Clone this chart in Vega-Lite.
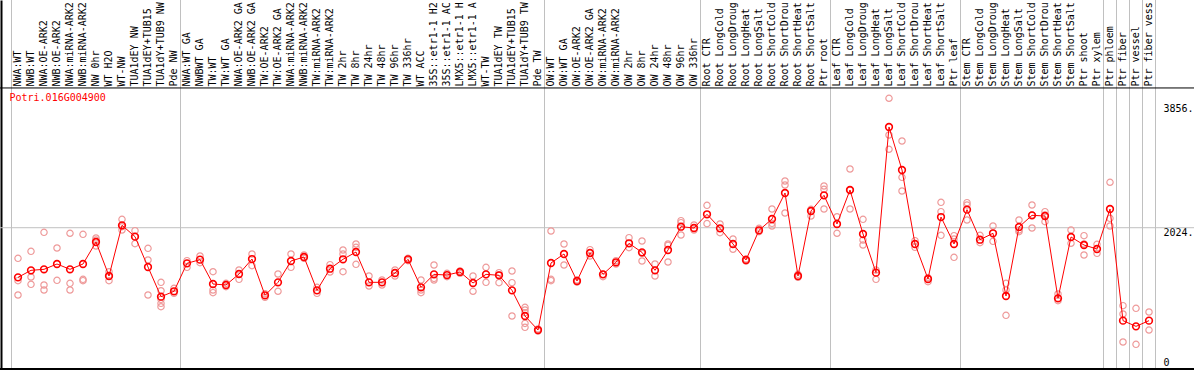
{
  "$schema": "https://vega.github.io/schema/vega-lite/v6.json",
  "width": 1194,
  "height": 370,
  "autosize": {"type": "none"},
  "padding": 0,
  "background": "white",
  "config": {
    "view": {"stroke": null},
    "font": "DejaVu Sans Mono",
    "axis": {"labelFont": "DejaVu Sans Mono", "labelFontSize": 10, "labelColor": "black"}
  },
  "datasets": {
    "cats": [
      {"cond": "NWA:WT"}, {"cond": "NWA:WT GA"}, {"cond": "OW:WT"}, {"cond": "Root CTR"}, {"cond": "Leaf CTR"},
      {"cond": "Stem CTR"}, {"cond": "Ptr phloem"}, {"cond": "Ptr fiber"}, {"cond": "Ptr vessel"}, {"cond": "Ptr fiber vessel"}
    ],
    "means": [
      {"cond": "NWA:WT", "v": 1295}, {"cond": "NWB:WT", "v": 1398}, {"cond": "NWA:OE-ARK2", "v": 1413}, {"cond": "NWB:OE-ARK2", "v": 1491},
      {"cond": "NWA:miRNA-ARK2", "v": 1413}, {"cond": "NWB:miRNA-ARK2", "v": 1491}, {"cond": "NW 0hr", "v": 1814}, {"cond": "WT H2O", "v": 1315},
      {"cond": "WT-NW", "v": 2059}, {"cond": "TUA1dEY NW", "v": 1893}, {"cond": "TUA1dEY+TUB15 NW", "v": 1447}, {"cond": "TUA1dY+TUB9 NW", "v": 1011},
      {"cond": "Pde NW", "v": 1090}, {"cond": "NWA:WT GA", "v": 1501}, {"cond": "NWBWT GA", "v": 1555}, {"cond": "TW:WT", "v": 1197},
      {"cond": "TW:WT GA", "v": 1183}, {"cond": "NWA:OE-ARK2 GA", "v": 1344}, {"cond": "NWB:OE-ARK2 GA", "v": 1564}, {"cond": "TW:OE-ARK2", "v": 1031},
      {"cond": "TW:OE-ARK2 GA", "v": 1222}, {"cond": "NWA:miRNA-ARK2 GA", "v": 1535}, {"cond": "NWB:miRNA-ARK2 GA", "v": 1594}, {"cond": "TW:miRNA-ARK2", "v": 1104},
      {"cond": "TW:miRNA-ARK2 GA", "v": 1422}, {"cond": "TW 2hr", "v": 1560}, {"cond": "TW 8hr", "v": 1667}, {"cond": "TW 24hr", "v": 1222},
      {"cond": "TW 48hr", "v": 1222}, {"cond": "TW 96hr", "v": 1359}, {"cond": "TW 336hr", "v": 1560}, {"cond": "WT ACC", "v": 1148},
      {"cond": "35S::etr1-1 H2O", "v": 1339}, {"cond": "35S::etr1-1 ACC", "v": 1329}, {"cond": "LMX5::etr1-1 H2O", "v": 1374}, {"cond": "LMX5::etr1-1 ACC", "v": 1212},
      {"cond": "WT-TW", "v": 1339}, {"cond": "TUA1dEY TW", "v": 1325}, {"cond": "TUA1dEY+TUB15 TW", "v": 1104}, {"cond": "TUA1dY+TUB9 TW", "v": 727},
      {"cond": "Pde TW", "v": 521}, {"cond": "OW:WT", "v": 1506}, {"cond": "OW:WT GA", "v": 1638}, {"cond": "OW:OE-ARK2", "v": 1241},
      {"cond": "OW:OE-ARK2 GA", "v": 1653}, {"cond": "OW:miRNA-ARK2", "v": 1339}, {"cond": "OW:miRNA-ARK2 GA", "v": 1516}, {"cond": "OW 2hr", "v": 1795},
      {"cond": "OW 8hr", "v": 1662}, {"cond": "OW 24hr", "v": 1398}, {"cond": "OW 48hr", "v": 1697}, {"cond": "OW 96hr", "v": 2039},
      {"cond": "OW 336hr", "v": 2020}, {"cond": "Root CTR", "v": 2221}, {"cond": "Root LongCold", "v": 2015}, {"cond": "Root LongDrought", "v": 1785},
      {"cond": "Root LongHeat", "v": 1550}, {"cond": "Root LongSalt", "v": 1986}, {"cond": "Root ShortCold", "v": 2152}, {"cond": "Root ShortDrought", "v": 2534},
      {"cond": "Root ShortHeat", "v": 1315}, {"cond": "Root ShortSalt", "v": 2270}, {"cond": "Ptr root", "v": 2500}, {"cond": "Leaf CTR", "v": 2079},
      {"cond": "Leaf LongCold", "v": 2578}, {"cond": "Leaf LongDrought", "v": 1932}, {"cond": "Leaf LongHeat", "v": 1364}, {"cond": "Leaf LongSalt", "v": 3504},
      {"cond": "Leaf ShortCold", "v": 2872}, {"cond": "Leaf ShortDrought", "v": 1785}, {"cond": "Leaf ShortHeat", "v": 1271}, {"cond": "Leaf ShortSalt", "v": 2181},
      {"cond": "Ptr leaf", "v": 1785}, {"cond": "Stem CTR", "v": 2289}, {"cond": "Stem LongCold", "v": 1848}, {"cond": "Stem LongDrought", "v": 1942},
      {"cond": "Stem LongHeat", "v": 1021}, {"cond": "Stem LongSalt", "v": 2035}, {"cond": "Stem ShortCold", "v": 2206}, {"cond": "Stem ShortDrought", "v": 2196},
      {"cond": "Stem ShortHeat", "v": 987}, {"cond": "Stem ShortSalt", "v": 1888}, {"cond": "Ptr shoot", "v": 1770}, {"cond": "Ptr xylem", "v": 1711},
      {"cond": "Ptr phloem", "v": 2299}, {"cond": "Ptr fiber", "v": 659}, {"cond": "Ptr vessel", "v": 575}, {"cond": "Ptr fiber vessel", "v": 659}
    ],
    "reps": [
      {"cond": "NWA:WT", "v": 1574}, {"cond": "NWA:WT", "v": 1246}, {"cond": "NWA:WT", "v": 1036},
      {"cond": "NWB:WT", "v": 1677}, {"cond": "NWB:WT", "v": 1300}, {"cond": "NWB:WT", "v": 1192},
      {"cond": "NWA:OE-ARK2", "v": 1956}, {"cond": "NWA:OE-ARK2", "v": 1183}, {"cond": "NWA:OE-ARK2", "v": 1109},
      {"cond": "NWB:OE-ARK2", "v": 1726}, {"cond": "NWB:OE-ARK2", "v": 1251},
      {"cond": "NWA:miRNA-ARK2", "v": 1942}, {"cond": "NWA:miRNA-ARK2", "v": 1207}, {"cond": "NWA:miRNA-ARK2", "v": 1109},
      {"cond": "NWB:miRNA-ARK2", "v": 1927}, {"cond": "NWB:miRNA-ARK2", "v": 1266}, {"cond": "NWB:miRNA-ARK2", "v": 1246},
      {"cond": "NW 0hr", "v": 1873}, {"cond": "NW 0hr", "v": 1844}, {"cond": "NW 0hr", "v": 1755},
      {"cond": "WT H2O", "v": 1378}, {"cond": "WT H2O", "v": 1315}, {"cond": "WT H2O", "v": 1246},
      {"cond": "WT-NW", "v": 2147}, {"cond": "WT-NW", "v": 2039}, {"cond": "WT-NW", "v": 1990},
      {"cond": "TUA1dEY NW", "v": 1981}, {"cond": "TUA1dEY NW", "v": 1893}, {"cond": "TUA1dEY NW", "v": 1790},
      {"cond": "TUA1dEY+TUB15 NW", "v": 1721}, {"cond": "TUA1dEY+TUB15 NW", "v": 1550}, {"cond": "TUA1dEY+TUB15 NW", "v": 1036},
      {"cond": "TUA1dY+TUB9 NW", "v": 1222}, {"cond": "TUA1dY+TUB9 NW", "v": 1099}, {"cond": "TUA1dY+TUB9 NW", "v": 972}, {"cond": "TUA1dY+TUB9 NW", "v": 913}, {"cond": "TUA1dY+TUB9 NW", "v": 864},
      {"cond": "Pde NW", "v": 1134}, {"cond": "Pde NW", "v": 1060},
      {"cond": "NWA:WT GA", "v": 1540}, {"cond": "NWA:WT GA", "v": 1442},
      {"cond": "NWBWT GA", "v": 1609}, {"cond": "NWBWT GA", "v": 1511},
      {"cond": "TW:WT", "v": 1378}, {"cond": "TW:WT", "v": 1109}, {"cond": "TW:WT", "v": 1070},
      {"cond": "TW:WT GA", "v": 1207}, {"cond": "TW:WT GA", "v": 1158},
      {"cond": "NWA:OE-ARK2 GA", "v": 1403}, {"cond": "NWA:OE-ARK2 GA", "v": 1266},
      {"cond": "NWB:OE-ARK2 GA", "v": 1638}, {"cond": "NWB:OE-ARK2 GA", "v": 1467},
      {"cond": "TW:OE-ARK2", "v": 1055}, {"cond": "TW:OE-ARK2", "v": 1001},
      {"cond": "TW:OE-ARK2 GA", "v": 1344}, {"cond": "TW:OE-ARK2 GA", "v": 1090},
      {"cond": "NWA:miRNA-ARK2 GA", "v": 1638}, {"cond": "NWA:miRNA-ARK2 GA", "v": 1442},
      {"cond": "NWB:miRNA-ARK2 GA", "v": 1623}, {"cond": "NWB:miRNA-ARK2 GA", "v": 1574},
      {"cond": "TW:miRNA-ARK2", "v": 1148}, {"cond": "TW:miRNA-ARK2", "v": 1060},
      {"cond": "TW:miRNA-ARK2 GA", "v": 1481}, {"cond": "TW:miRNA-ARK2 GA", "v": 1374},
      {"cond": "TW 2hr", "v": 1697}, {"cond": "TW 2hr", "v": 1638}, {"cond": "TW 2hr", "v": 1378},
      {"cond": "TW 8hr", "v": 1785}, {"cond": "TW 8hr", "v": 1736}, {"cond": "TW 8hr", "v": 1486},
      {"cond": "TW 24hr", "v": 1315}, {"cond": "TW 24hr", "v": 1168},
      {"cond": "TW 48hr", "v": 1256}, {"cond": "TW 48hr", "v": 1183},
      {"cond": "TW 96hr", "v": 1403}, {"cond": "TW 96hr", "v": 1315},
      {"cond": "TW 336hr", "v": 1574}, {"cond": "TW 336hr", "v": 1540},
      {"cond": "WT ACC", "v": 1256}, {"cond": "WT ACC", "v": 1109}, {"cond": "WT ACC", "v": 1070},
      {"cond": "35S::etr1-1 H2O", "v": 1476}, {"cond": "35S::etr1-1 H2O", "v": 1280}, {"cond": "35S::etr1-1 H2O", "v": 1256},
      {"cond": "35S::etr1-1 ACC", "v": 1354}, {"cond": "35S::etr1-1 ACC", "v": 1305},
      {"cond": "LMX5::etr1-1 H2O", "v": 1388}, {"cond": "LMX5::etr1-1 H2O", "v": 1354},
      {"cond": "LMX5::etr1-1 ACC", "v": 1315}, {"cond": "LMX5::etr1-1 ACC", "v": 1090},
      {"cond": "WT-TW", "v": 1442}, {"cond": "WT-TW", "v": 1222},
      {"cond": "TUA1dEY TW", "v": 1364}, {"cond": "TUA1dEY TW", "v": 1217}, {"cond": "TUA1dEY TW", "v": 1329},
      {"cond": "TUA1dEY+TUB15 TW", "v": 1388}, {"cond": "TUA1dEY+TUB15 TW", "v": 1217}, {"cond": "TUA1dEY+TUB15 TW", "v": 727},
      {"cond": "TUA1dY+TUB9 TW", "v": 855}, {"cond": "TUA1dY+TUB9 TW", "v": 815}, {"cond": "TUA1dY+TUB9 TW", "v": 776}, {"cond": "TUA1dY+TUB9 TW", "v": 619}, {"cond": "TUA1dY+TUB9 TW", "v": 561},
      {"cond": "Pde TW", "v": 536}, {"cond": "Pde TW", "v": 507},
      {"cond": "OW:WT", "v": 1976}, {"cond": "OW:WT", "v": 1266}, {"cond": "OW:WT", "v": 1246},
      {"cond": "OW:WT GA", "v": 1785}, {"cond": "OW:WT GA", "v": 1476},
      {"cond": "OW:OE-ARK2", "v": 1256}, {"cond": "OW:OE-ARK2", "v": 1227},
      {"cond": "OW:OE-ARK2 GA", "v": 1702}, {"cond": "OW:OE-ARK2 GA", "v": 1609},
      {"cond": "OW:miRNA-ARK2", "v": 1339}, {"cond": "OW:miRNA-ARK2", "v": 1305},
      {"cond": "OW:miRNA-ARK2 GA", "v": 1540}, {"cond": "OW:miRNA-ARK2 GA", "v": 1491},
      {"cond": "OW 2hr", "v": 1878}, {"cond": "OW 2hr", "v": 1731},
      {"cond": "OW 8hr", "v": 1829}, {"cond": "OW 8hr", "v": 1535}, {"cond": "OW 8hr", "v": 1648},
      {"cond": "OW 24hr", "v": 1491}, {"cond": "OW 24hr", "v": 1315},
      {"cond": "OW 48hr", "v": 1785}, {"cond": "OW 48hr", "v": 1765}, {"cond": "OW 48hr", "v": 1520},
      {"cond": "OW 96hr", "v": 2128}, {"cond": "OW 96hr", "v": 2098}, {"cond": "OW 96hr", "v": 1917},
      {"cond": "OW 336hr", "v": 2064}, {"cond": "OW 336hr", "v": 1990},
      {"cond": "Root CTR", "v": 2353}, {"cond": "Root CTR", "v": 2084},
      {"cond": "Root LongCold", "v": 2079}, {"cond": "Root LongCold", "v": 1951},
      {"cond": "Root LongDrought", "v": 1858}, {"cond": "Root LongDrought", "v": 1707},
      {"cond": "Root LongHeat", "v": 1564}, {"cond": "Root LongHeat", "v": 1535},
      {"cond": "Root LongSalt", "v": 2015}, {"cond": "Root LongSalt", "v": 1966},
      {"cond": "Root ShortCold", "v": 2299}, {"cond": "Root ShortCold", "v": 2088}, {"cond": "Root ShortCold", "v": 2049},
      {"cond": "Root ShortDrought", "v": 2710}, {"cond": "Root ShortDrought", "v": 2652}, {"cond": "Root ShortDrought", "v": 2240},
      {"cond": "Root ShortHeat", "v": 1339}, {"cond": "Root ShortHeat", "v": 1295},
      {"cond": "Root ShortSalt", "v": 2294}, {"cond": "Root ShortSalt", "v": 2196},
      {"cond": "Ptr root", "v": 2637}, {"cond": "Ptr root", "v": 2588}, {"cond": "Ptr root", "v": 2299},
      {"cond": "Leaf CTR", "v": 2186}, {"cond": "Leaf CTR", "v": 1942},
      {"cond": "Leaf LongCold", "v": 2887}, {"cond": "Leaf LongCold", "v": 2299}, {"cond": "Leaf LongCold", "v": 2578},
      {"cond": "Leaf LongDrought", "v": 2147}, {"cond": "Leaf LongDrought", "v": 1844}, {"cond": "Leaf LongDrought", "v": 1770},
      {"cond": "Leaf LongHeat", "v": 1403}, {"cond": "Leaf LongHeat", "v": 1266},
      {"cond": "Leaf LongSalt", "v": 3925}, {"cond": "Leaf LongSalt", "v": 3386}, {"cond": "Leaf LongSalt", "v": 3176},
      {"cond": "Leaf ShortCold", "v": 3298}, {"cond": "Leaf ShortCold", "v": 2764}, {"cond": "Leaf ShortCold", "v": 2563},
      {"cond": "Leaf ShortDrought", "v": 1834}, {"cond": "Leaf ShortDrought", "v": 1736},
      {"cond": "Leaf ShortHeat", "v": 1290}, {"cond": "Leaf ShortHeat", "v": 1231},
      {"cond": "Leaf ShortSalt", "v": 2397}, {"cond": "Leaf ShortSalt", "v": 2260}, {"cond": "Leaf ShortSalt", "v": 1912},
      {"cond": "Ptr leaf", "v": 1907}, {"cond": "Ptr leaf", "v": 1858}, {"cond": "Ptr leaf", "v": 1589},
      {"cond": "Stem CTR", "v": 2392}, {"cond": "Stem CTR", "v": 2358}, {"cond": "Stem CTR", "v": 2137},
      {"cond": "Stem LongCold", "v": 1912}, {"cond": "Stem LongCold", "v": 1804},
      {"cond": "Stem LongDrought", "v": 2049}, {"cond": "Stem LongDrought", "v": 1824},
      {"cond": "Stem LongHeat", "v": 1207}, {"cond": "Stem LongHeat", "v": 1109}, {"cond": "Stem LongHeat", "v": 737},
      {"cond": "Stem LongSalt", "v": 2137}, {"cond": "Stem LongSalt", "v": 1990}, {"cond": "Stem LongSalt", "v": 1966},
      {"cond": "Stem ShortCold", "v": 2358}, {"cond": "Stem ShortCold", "v": 2020}, {"cond": "Stem ShortCold", "v": 2211},
      {"cond": "Stem ShortDrought", "v": 2260}, {"cond": "Stem ShortDrought", "v": 2113}, {"cond": "Stem ShortDrought", "v": 2211},
      {"cond": "Stem ShortHeat", "v": 1050}, {"cond": "Stem ShortHeat", "v": 952},
      {"cond": "Stem ShortSalt", "v": 1990}, {"cond": "Stem ShortSalt", "v": 1795},
      {"cond": "Ptr shoot", "v": 1907}, {"cond": "Ptr shoot", "v": 1623}, {"cond": "Ptr shoot", "v": 1785},
      {"cond": "Ptr xylem", "v": 1780}, {"cond": "Ptr xylem", "v": 1648},
      {"cond": "Ptr phloem", "v": 2691}, {"cond": "Ptr phloem", "v": 2162}, {"cond": "Ptr phloem", "v": 2049},
      {"cond": "Ptr fiber", "v": 879}, {"cond": "Ptr fiber", "v": 757}, {"cond": "Ptr fiber", "v": 345},
      {"cond": "Ptr vessel", "v": 840}, {"cond": "Ptr vessel", "v": 311},
      {"cond": "Ptr fiber vessel", "v": 786}, {"cond": "Ptr fiber vessel", "v": 521}
    ],
    "gene": [{"name": "Potri.016G004900"}]
  },
  "resolve": {"axis": {"x": "independent", "y": "independent"}},
  "layer": [
    {
      "data": {"name": "cats"},
      "mark": {"type": "rule", "stroke": "#c0c0c0", "strokeWidth": 1},
      "encoding": {
        "x": {
          "field": "cond", "type": "nominal", "bandPosition": 0,
          "scale": {"type": "band", "paddingInner": 0, "paddingOuter": 0, "range": [11.5, 1155.5],
            "domain": ["NWA:WT","NWB:WT","NWA:OE-ARK2","NWB:OE-ARK2","NWA:miRNA-ARK2","NWB:miRNA-ARK2","NW 0hr","WT H2O","WT-NW","TUA1dEY NW","TUA1dEY+TUB15 NW","TUA1dY+TUB9 NW","Pde NW","NWA:WT GA","NWBWT GA","TW:WT","TW:WT GA","NWA:OE-ARK2 GA","NWB:OE-ARK2 GA","TW:OE-ARK2","TW:OE-ARK2 GA","NWA:miRNA-ARK2 GA","NWB:miRNA-ARK2 GA","TW:miRNA-ARK2","TW:miRNA-ARK2 GA","TW 2hr","TW 8hr","TW 24hr","TW 48hr","TW 96hr","TW 336hr","WT ACC","35S::etr1-1 H2O","35S::etr1-1 ACC","LMX5::etr1-1 H2O","LMX5::etr1-1 ACC","WT-TW","TUA1dEY TW","TUA1dEY+TUB15 TW","TUA1dY+TUB9 TW","Pde TW","OW:WT","OW:WT GA","OW:OE-ARK2","OW:OE-ARK2 GA","OW:miRNA-ARK2","OW:miRNA-ARK2 GA","OW 2hr","OW 8hr","OW 24hr","OW 48hr","OW 96hr","OW 336hr","Root CTR","Root LongCold","Root LongDrought","Root LongHeat","Root LongSalt","Root ShortCold","Root ShortDrought","Root ShortHeat","Root ShortSalt","Ptr root","Leaf CTR","Leaf LongCold","Leaf LongDrought","Leaf LongHeat","Leaf LongSalt","Leaf ShortCold","Leaf ShortDrought","Leaf ShortHeat","Leaf ShortSalt","Ptr leaf","Stem CTR","Stem LongCold","Stem LongDrought","Stem LongHeat","Stem LongSalt","Stem ShortCold","Stem ShortDrought","Stem ShortHeat","Stem ShortSalt","Ptr shoot","Ptr xylem","Ptr phloem","Ptr fiber","Ptr vessel","Ptr fiber vessel"]},
          "axis": {
            "orient": "top", "offset": -88, "title": null, "ticks": false, "tickSize": 0,
            "labelAngle": -90, "labelAlign": "left", "labelBaseline": "middle", "labelPadding": 2,
            "labelExpr": "substring(datum.label, 0, 14)",
            "labelLimit": 0, "labelOverlap": false, "labelBound": false, "labelFlush": false,
            "domain": false, "grid": false
          }
        }
      }
    },
    {
      "data": {"values": [{"cond": "Ptr fiber vessel"}]},
      "mark": {"type": "rule", "stroke": "#c0c0c0", "strokeWidth": 1},
      "encoding": {
        "x": {"field": "cond", "type": "nominal", "bandPosition": 1, "axis": null}
      }
    },
    {
      "data": {"name": "gene"},
      "mark": {"type": "rule", "stroke": "#c0c0c0", "strokeWidth": 1},
      "encoding": {
        "y": {
          "datum": 2024, "type": "quantitative",
          "scale": {"domain": [-66, 5369], "nice": false, "zero": false},
          "axis": {
            "orient": "right", "offset": -31, "title": null, "values": [0, 2024, 3856],
            "domain": false, "ticks": false, "grid": false, "labelPadding": 0, "labelAlign": "left",
            "labelBaseline": {"condition": {"test": "datum.value == 0", "value": "alphabetic"}, "value": "top"},
            "labelExpr": "datum.value == 0 ? '0' : format(datum.value, 'd') + '.'",
            "labelFlush": false, "labelOverlap": false, "labelBound": false
          }
        }
      }
    },
    {
      "data": {"name": "gene"},
      "mark": {"type": "rule", "stroke": "black", "strokeWidth": 1},
      "encoding": {
        "y": {"datum": 4077, "type": "quantitative", "axis": null}
      }
    },
    {
      "data": {"name": "gene"},
      "mark": {"type": "rule", "stroke": "black", "strokeWidth": 2},
      "encoding": {
        "y": {"datum": -52, "type": "quantitative", "axis": null}
      }
    },
    {
      "data": {"name": "reps"},
      "mark": {"type": "point", "shape": "circle", "filled": false, "stroke": "#ee9a9a", "strokeWidth": 1.2, "size": 40, "opacity": 1},
      "encoding": {
        "x": {"field": "cond", "type": "nominal", "axis": null},
        "y": {"field": "v", "type": "quantitative",
          "axis": {"orient": "left", "offset": -1, "title": null, "labels": false, "ticks": false, "grid": false, "domain": true, "domainColor": "black", "domainWidth": 2}}
      }
    },
    {
      "data": {"name": "means"},
      "mark": {"type": "point", "shape": "circle", "filled": false, "stroke": "#ff0000", "strokeWidth": 1.6, "size": 45, "opacity": 1},
      "encoding": {
        "x": {"field": "cond", "type": "nominal", "axis": null},
        "y": {"field": "v", "type": "quantitative", "axis": null}
      }
    },
    {
      "data": {"name": "means"},
      "mark": {"type": "line", "stroke": "#ff0000", "strokeWidth": 1},
      "encoding": {
        "x": {"field": "cond", "type": "nominal", "axis": null},
        "y": {"field": "v", "type": "quantitative", "axis": null},
        "order": {"value": null}
      }
    },
    {
      "data": {"name": "gene"},
      "mark": {"type": "text", "align": "left", "baseline": "alphabetic", "font": "DejaVu Sans Mono", "fontSize": 10, "color": "#ff0000", "dx": -2},
      "encoding": {
        "x": {"datum": "NWA:WT", "bandPosition": 0, "axis": null},
        "y": {"datum": 3890, "type": "quantitative", "axis": null},
        "text": {"field": "name"}
      }
    }
  ]
}
